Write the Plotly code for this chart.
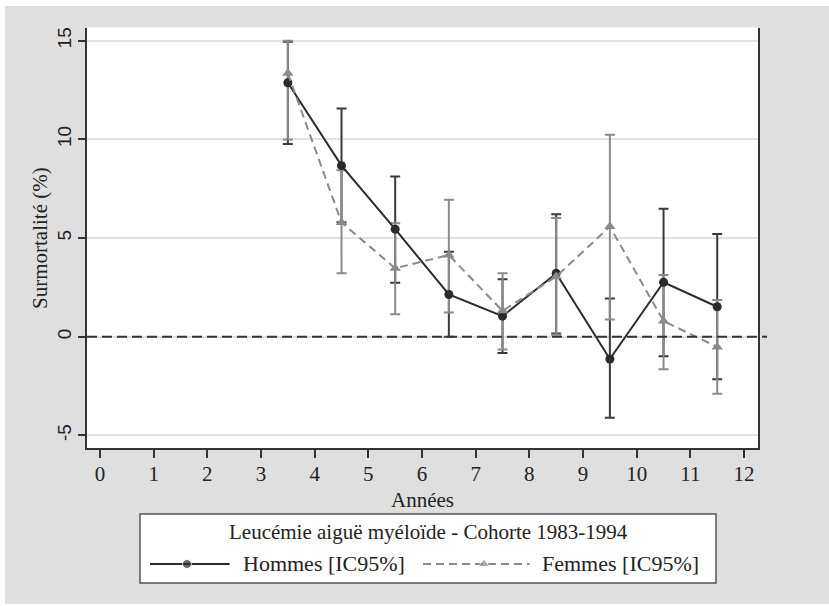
import plotly.graph_objects as go

# ---- data ----
years = [3.5, 4.5, 5.5, 6.5, 7.5, 8.5, 9.5, 10.5, 11.5]
hommes = [12.87, 8.67, 5.45, 2.14, 1.04, 3.21, -1.13, 2.76, 1.52]
hommes_low = [9.77, 5.8, 2.74, 0.0, -0.82, 0.16, -4.11, -0.99, -2.16]
hommes_high = [14.95, 11.57, 8.12, 4.31, 2.91, 6.21, 1.94, 6.48, 5.2]
femmes = [13.35, 5.79, 3.47, 4.14, 1.31, 3.05, 5.58, 0.79, -0.52]
femmes_low = [10.0, 3.21, 1.14, 1.23, -0.65, 0.1, 0.87, -1.65, -2.89]
femmes_high = [15.0, 8.43, 5.75, 6.94, 3.21, 6.01, 10.24, 3.13, 1.86]
x_ticks = list(range(0, 13))
y_ticks = [-5, 0, 5, 10, 15]

legend_title = "Leucémie aiguë myéloïde - Cohorte 1983-1994"
name_h = "Hommes [IC95%]"
name_f = "Femmes [IC95%]"

W, H = 829, 606
SERIF = "Liberation Serif, Times New Roman, serif"
SANS = "Liberation Sans, Arial, sans-serif"
C_H = "#2b2b2b"
C_F = "#8a8a8a"
BG = "#dfdfdf"

def px(xp):
    return xp / W

def py(yp):
    return 1 - yp / H

PL, PR, PT, PB = 87, 758, 27.5, 448

fig = go.Figure()

# error bars (drawn first)
fig.add_trace(go.Scatter(
    x=years, y=hommes, mode="markers", marker=dict(color="rgba(0,0,0,0)", size=1),
    error_y=dict(type="data", symmetric=False,
                 array=[h - v for h, v in zip(hommes_high, hommes)],
                 arrayminus=[v - l for v, l in zip(hommes, hommes_low)],
                 color="#3a3a3a", thickness=2, width=5),
    showlegend=False, hoverinfo="skip"))
fig.add_trace(go.Scatter(
    x=years, y=femmes, mode="markers", marker=dict(color="rgba(0,0,0,0)", size=1),
    error_y=dict(type="data", symmetric=False,
                 array=[h - v for h, v in zip(femmes_high, femmes)],
                 arrayminus=[v - l for v, l in zip(femmes, femmes_low)],
                 color=C_F, thickness=2, width=5),
    showlegend=False, hoverinfo="skip"))

# lines
fig.add_trace(go.Scatter(
    x=years, y=hommes, mode="lines+markers", name=name_h,
    line=dict(color=C_H, width=2),
    marker=dict(symbol="circle", size=9, color=C_H),
    showlegend=False))
fig.add_trace(go.Scatter(
    x=years, y=femmes, mode="lines+markers", name=name_f,
    line=dict(color=C_F, width=2, dash="8px,5px"),
    marker=dict(symbol="triangle-up", size=10, color=C_F),
    showlegend=False))

# legend samples on an overlay axis in pixel units
LX0, LX1, LY0, LY1 = 140, 716, 514, 583
fig.add_trace(go.Scatter(
    x=[150, 187, 229.6], y=[564, 564, 564], xaxis="x2", yaxis="y2",
    mode="lines+markers", line=dict(color=C_H, width=2),
    marker=dict(symbol="circle", size=[0, 9, 0], color=C_H),
    showlegend=False, hoverinfo="skip"))
fig.add_trace(go.Scatter(
    x=[423, 484, 529.6], y=[564, 564, 564], xaxis="x2", yaxis="y2",
    mode="lines+markers", line=dict(color=C_F, width=2, dash="8px,5px"),
    marker=dict(symbol="triangle-up", size=[0, 10, 0], color=C_F),
    showlegend=False, hoverinfo="skip"))

shapes = [
    # white strips outside the grey panel
    dict(type="rect", xref="paper", yref="paper", x0=0, x1=1, y0=py(6), y1=1,
         fillcolor="white", line=dict(width=0), layer="below"),
    dict(type="rect", xref="paper", yref="paper", x0=0, x1=px(5), y0=0, y1=1,
         fillcolor="white", line=dict(width=0), layer="below"),
    dict(type="rect", xref="paper", yref="paper", x0=0, x1=1, y0=0, y1=py(604),
         fillcolor="white", line=dict(width=0), layer="below"),
    # legend box
    dict(type="rect", xref="paper", yref="paper", x0=px(LX0), x1=px(LX1),
         y0=py(LY1), y1=py(LY0), fillcolor="white",
         line=dict(color="#555555", width=1.5), layer="below"),
    # dashed zero line
    dict(type="line", xref="paper", yref="y", x0=px(PL), x1=px(767), y0=0, y1=0,
         line=dict(color="#333333", width=2, dash="10px,5px")),
]

annotations = [
    dict(text="Années", xref="paper", yref="paper", x=px((PL + PR) / 2), y=py(500),
         showarrow=False, font=dict(family=SERIF, size=21, color="#222"),
         xanchor="center", yanchor="middle"),
    dict(text="Surmortalité (%)", xref="paper", yref="paper", x=px(40), y=py(238),
         showarrow=False, textangle=-90, font=dict(family=SERIF, size=21, color="#222"),
         xanchor="center", yanchor="middle"),
    dict(text=legend_title, xref="paper", yref="paper", x=px(428.5), y=py(532),
         showarrow=False, font=dict(family=SERIF, size=21, color="#222"),
         xanchor="center", yanchor="middle"),
    dict(text=name_h, xref="paper", yref="paper", x=px(241), y=py(563),
         showarrow=False, font=dict(family=SERIF, size=22, color="#222"),
         xanchor="left", yanchor="middle"),
    dict(text=name_f, xref="paper", yref="paper", x=px(540), y=py(563),
         showarrow=False, font=dict(family=SERIF, size=22, color="#222"),
         xanchor="left", yanchor="middle"),
]

fig.update_layout(
    width=W, height=H,
    margin=dict(l=0, r=0, t=0, b=0),
    paper_bgcolor=BG, plot_bgcolor="white",
    showlegend=False,
    xaxis=dict(domain=[px(PL), px(PR)], range=[-0.242, 12.26],
               tickvals=x_ticks, ticktext=[str(t) for t in x_ticks],
               ticks="outside", ticklen=8, tickwidth=1.5, tickcolor="#333",
               ticklabelstandoff=-2,
               showline=True, linecolor="#333", linewidth=1.5,
               showgrid=False, zeroline=False,
               tickfont=dict(family=SERIF, size=21, color="#222")),
    yaxis=dict(domain=[py(PB), py(PT)], range=[-5.64, 15.67],
               tickvals=y_ticks, ticktext=[str(t) for t in y_ticks],
               ticks="outside", ticklen=7, tickwidth=1.5, tickcolor="#333",
               tickangle=-90,
               showline=True, linecolor="#333", linewidth=1.5, mirror=True,
               showgrid=True, gridcolor="#e2e2e2", gridwidth=1.5, zeroline=False,
               tickfont=dict(family=SANS, size=19, color="#222")),
    xaxis2=dict(domain=[px(LX0), px(LX1)], range=[LX0, LX1], visible=False,
                anchor="y2", fixedrange=True),
    yaxis2=dict(domain=[py(LY1), py(LY0)], range=[LY1, LY0], visible=False,
                anchor="x2", fixedrange=True),
    shapes=shapes,
    annotations=annotations,
)

fig.write_html("out.html", config={"displayModeBar": False},
               post_script="document.body.style.margin='0';")
